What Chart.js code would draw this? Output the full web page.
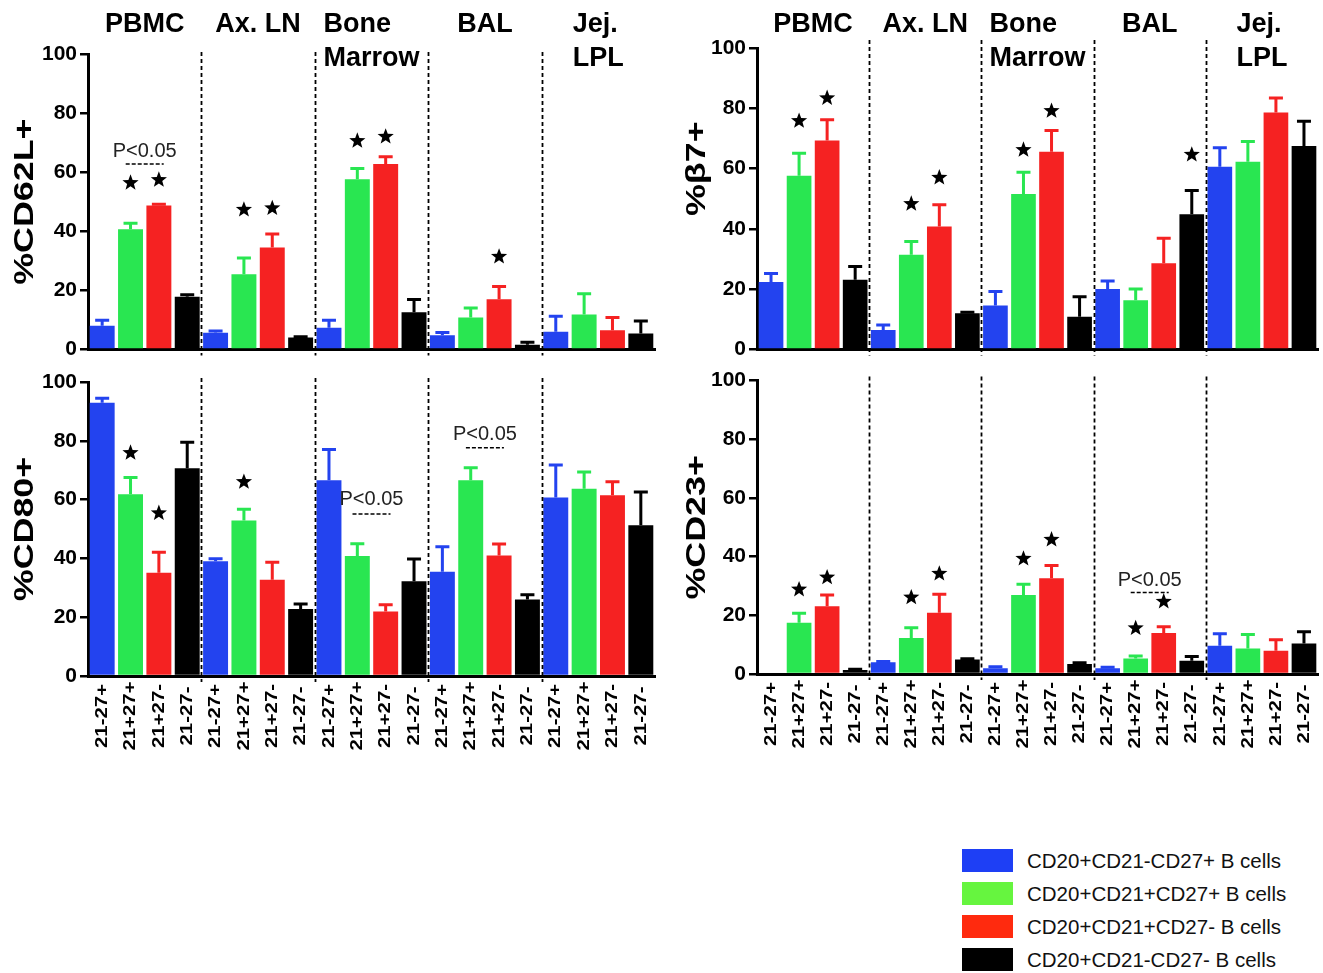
<!DOCTYPE html>
<html>
<head>
<meta charset="utf-8">
<title>B cell subsets by tissue</title>
<script src="https://cdn.jsdelivr.net/npm/chart.js@4.4.0/dist/chart.umd.min.js"></script>
<style>
  body { margin: 0; background: #fff; font-family: Arial, "Liberation Sans", sans-serif; }
  #wrap { position: relative; width: 1323px; height: 973px; overflow: hidden; }
  canvas { position: absolute; }
  #legend { position: absolute; left: 962px; top: 844px; }
  .row { display: flex; align-items: center; height: 33px; }
  .box { width: 51px; height: 23px; margin-right: 14px; }
  .lbl { font-size: 20.5px; color: #111; }
</style>
</head>
<body>
<div id="wrap">
  <canvas id="cd62l" width="660" height="365" style="left:0;top:0"></canvas>
  <canvas id="b7" width="663" height="365" style="left:660px;top:0"></canvas>
  <canvas id="cd80" width="660" height="400" style="left:0;top:365px"></canvas>
  <canvas id="cd23" width="663" height="400" style="left:660px;top:365px"></canvas>
  <div id="legend"></div>
</div>
<script>
const FONT = 'Arial, "Liberation Sans", sans-serif';

const tissues = [['PBMC'], ['Ax. LN'], ['Bone', 'Marrow'], ['BAL'], ['Jej.', 'LPL']];
const subsets = ['21-27+', '21+27+', '21+27-', '21-27-'];
const legendLabels = [
  'CD20+CD21-CD27+ B cells',
  'CD20+CD21+CD27+ B cells',
  'CD20+CD21+CD27- B cells',
  'CD20+CD21-CD27- B cells'
];
const barColors = ['#2343ef', '#29e651', '#f52222', '#000000'];
const legendColors = ['#1e3ff5', '#66f53f', '#ff2a0e', '#000000'];

// 20 bars per panel: 5 tissues x 4 subsets
const cd62l    = [8.0, 40.7, 48.7, 17.8,  5.6, 25.4, 34.5, 4.0,  7.3, 57.6, 62.8, 12.6,  4.8, 10.8, 17.0, 1.6,  6.0, 11.8, 6.5, 5.4];
const cd62lErr = [1.9, 2.0, 0.4, 0.7,  0.6, 5.5, 4.6, 0.3,  2.6, 3.6, 2.4, 4.3,  0.9, 3.2, 4.3, 0.8,  5.2, 7.0, 4.3, 4.2];
const cd62lStars = [[1, 56.4], [2, 57.4], [5, 47.3], [6, 47.8], [9, 70.6], [10, 72.0], [14, 31.4]];
const cd62lP = [[1, 2, 66.9, 62.8]];

const b7    = [22.4, 57.6, 69.3, 23.1,  6.4, 31.4, 40.8, 12.0,  14.6, 51.6, 65.6, 10.8,  20.0, 16.3, 28.6, 44.8,  60.6, 62.3, 78.6, 67.5];
const b7Err = [2.8, 7.5, 6.9, 4.4,  1.7, 4.4, 7.2, 0.3,  4.6, 7.2, 7.0, 6.7,  2.7, 3.7, 8.3, 7.9,  6.3, 6.7, 4.8, 8.2];
const b7Stars = [[1, 75.8], [2, 83.4], [5, 48.3], [6, 57.0], [9, 66.2], [10, 79.1], [15, 64.6]];

const cd80    = [92.9, 61.8, 35.1, 70.7,  39.0, 52.9, 32.7, 22.8,  66.6, 40.8, 21.9, 32.2,  35.5, 66.6, 41.0, 26.0,  60.7, 63.7, 61.5, 51.3];
const cd80Err = [1.6, 5.7, 7.0, 8.8,  0.9, 3.8, 6.0, 1.7,  10.4, 4.2, 2.3, 7.6,  8.5, 4.2, 3.9, 1.6,  11.1, 5.7, 4.6, 11.3];
const cd80Stars = [[1, 75.9], [2, 55.4], [5, 66.0]];
const cd80P = [[9, 10, 59.9, 55.1], [13, 14, 82.3, 77.6]];

const cd23    = [0, 17.5, 23.1, 1.4,  4.0, 12.3, 20.9, 4.9,  2.0, 26.9, 32.6, 3.4,  2.0, 5.3, 14.0, 4.5,  9.6, 8.7, 7.9, 10.4];
const cd23Err = [0, 3.2, 3.8, 0.2,  0.3, 3.5, 6.3, 0.3,  0.5, 3.7, 4.4, 0.4,  0.3, 0.8, 2.1, 1.5,  4.1, 4.8, 3.8, 4.0];
const cd23Stars = [[1, 28.8], [2, 32.9], [5, 26.1], [6, 34.2], [9, 39.3], [10, 45.8], [13, 15.6], [14, 24.7]];
const cd23P = [[13, 14, 31.9, 27.8]];

const labels = tissues.flatMap(t => subsets.map(s => t.join(' ') + ' ' + s));

function drawStar(ctx, cx, cy, r) {
  ctx.beginPath();
  for (let k = 0; k < 10; k++) {
    const rad = k % 2 === 0 ? r : r * 0.42;
    const a = -Math.PI / 2 + k * Math.PI / 5;
    ctx.lineTo(cx + rad * Math.cos(a), cy + rad * Math.sin(a));
  }
  ctx.closePath();
  ctx.fill();
}

// vertical text, stretched along its length like the original figure
function upText(ctx, text, x, y, stretch) {
  ctx.save();
  ctx.translate(x, y);
  ctx.rotate(-Math.PI / 2);
  ctx.scale(stretch, 1);
  ctx.fillText(text, 0, 0);
  ctx.restore();
}

// error bars, separators, stars, p values, tissue names, subset labels, y title
const decorations = {
  id: 'decorations',
  afterDatasetsDraw(chart, args, opts) {
    const { ctx, chartArea, scales: { x, y } } = chart;
    const values = chart.data.datasets[0].data;
    const meta = chart.getDatasetMeta(0);
    ctx.save();

    meta.data.forEach((bar, i) => {
      const err = opts.errors[i];
      if (!err) return;
      const top = y.getPixelForValue(values[i] + err);
      ctx.strokeStyle = barColors[i % 4];
      ctx.lineWidth = 3;
      ctx.beginPath();
      ctx.moveTo(bar.x, bar.y);
      ctx.lineTo(bar.x, top);
      ctx.moveTo(bar.x - 7, top);
      ctx.lineTo(bar.x + 7, top);
      ctx.stroke();
    });

    ctx.strokeStyle = '#000';
    ctx.lineWidth = 1.8;
    ctx.setLineDash([4, 3]);
    for (let g = 1; g < tissues.length; g++) {
      const sx = Math.round((x.getPixelForValue(g * 4 - 1) + x.getPixelForValue(g * 4)) / 2) + 0.5;
      ctx.beginPath();
      ctx.moveTo(sx, chartArea.top - opts.sepAbove);
      ctx.lineTo(sx, chartArea.bottom + 6);
      ctx.stroke();
    }

    ctx.fillStyle = '#000';
    ctx.setLineDash([]);
    opts.stars.forEach(([i, v]) => drawStar(ctx, x.getPixelForValue(i), y.getPixelForValue(v), 8.5));

    ctx.font = '20px ' + FONT;
    ctx.textAlign = 'center';
    ctx.textBaseline = 'middle';
    opts.pvals.forEach(([a, b, textV, lineV]) => {
      const mid = (x.getPixelForValue(a) + x.getPixelForValue(b)) / 2;
      ctx.fillStyle = '#222';
      ctx.fillText('P<0.05', mid, y.getPixelForValue(textV));
      const ly = y.getPixelForValue(lineV);
      ctx.lineWidth = 1.5;
      ctx.setLineDash([4, 2]);
      ctx.beginPath();
      ctx.moveTo(mid - 19, ly);
      ctx.lineTo(mid + 19, ly);
      ctx.stroke();
      ctx.setLineDash([]);
    });
    ctx.fillStyle = '#000';

    if (opts.tissueNames) {
      ctx.font = 'bold 27px ' + FONT;
      ctx.textAlign = 'left';
      tissues.forEach((lines, g) => {
        const cx = (x.getPixelForValue(g * 4) + x.getPixelForValue(g * 4 + 3)) / 2;
        const w = Math.max(...lines.map(l => ctx.measureText(l).width));
        lines.forEach((l, k) => ctx.fillText(l, cx - w / 2, chartArea.top - opts.nameRise + k * 34));
      });
    }

    if (opts.subsetLabels) {
      ctx.font = 'bold 17px ' + FONT;
      ctx.textAlign = 'center';
      labels.forEach((_, i) => upText(ctx, subsets[i % 4], x.getPixelForValue(i), chartArea.bottom + 40, 1.2));
    }

    ctx.font = 'bold 28px ' + FONT;
    ctx.textAlign = 'center';
    upText(ctx, opts.title, opts.titleX, (chartArea.top + chartArea.bottom) / 2 + opts.titleShift, 1.28);
    ctx.restore();
  }
};

function makePanel(id, cfg) {
  new Chart(document.getElementById(id), {
    type: 'bar',
    data: {
      labels,
      datasets: [{
        data: cfg.values,
        backgroundColor: cfg.values.map((_, i) => barColors[i % 4]),
        barPercentage: 0.88,
        categoryPercentage: 1
      }]
    },
    options: {
      responsive: false,
      animation: false,
      layout: { padding: { top: cfg.top, right: 5, left: 0, bottom: 0 } },
      plugins: {
        legend: { display: false },
        tooltip: { enabled: false },
        decorations: {
          errors: cfg.errors,
          stars: cfg.stars,
          pvals: cfg.pvals || [],
          tissueNames: cfg.tissueNames,
          subsetLabels: cfg.subsetLabels,
          sepAbove: cfg.sepAbove,
          nameRise: cfg.nameRise || 0,
          title: cfg.title,
          titleX: cfg.titleX,
          titleShift: cfg.titleShift || 0
        }
      },
      scales: {
        x: {
          grid: { display: false },
          ticks: { display: false },
          border: { color: '#000', width: 3 },
          afterFit: s => { s.height = cfg.xHeight; }
        },
        y: {
          min: 0,
          max: 100,
          ticks: { stepSize: 20, color: '#000', padding: 3, font: { family: FONT, size: 21, weight: 'bold' } },
          grid: { drawOnChartArea: false, tickLength: 8, color: '#000', lineWidth: 2.5 },
          border: { color: '#000', width: 3 },
          afterFit: s => { s.width = cfg.yWidth; }
        }
      }
    },
    plugins: [decorations]
  });
}

makePanel('cd62l', {
  values: cd62l, errors: cd62lErr, stars: cd62lStars, pvals: cd62lP, title: '%CD62L+',
  top: 54, xHeight: 15, yWidth: 88, titleX: 25, sepAbove: 2,
  tissueNames: true, nameRise: 29, subsetLabels: false
});
makePanel('b7', {
  values: b7, errors: b7Err, stars: b7Stars, title: '%β7+',
  top: 48, xHeight: 15, yWidth: 97, titleX: 37, titleShift: -30, sepAbove: 8,
  tissueNames: true, nameRise: 23, subsetLabels: false
});
makePanel('cd80', {
  values: cd80, errors: cd80Err, stars: cd80Stars, pvals: cd80P, title: '%CD80+',
  top: 17, xHeight: 89, yWidth: 88, titleX: 25, sepAbove: 4,
  tissueNames: false, subsetLabels: true
});
makePanel('cd23', {
  values: cd23, errors: cd23Err, stars: cd23Stars, pvals: cd23P, title: '%CD23+',
  top: 14, xHeight: 91, yWidth: 97, titleX: 37, sepAbove: 4,
  tissueNames: false, subsetLabels: true
});

const legend = document.getElementById('legend');
legend.innerHTML = legendLabels.map((l, i) => `
  <div class="row">
    <div class="box" style="background:${legendColors[i]}"></div>
    <div class="lbl">${l}</div>
  </div>
`).join('');
</script>
</body>
</html>
